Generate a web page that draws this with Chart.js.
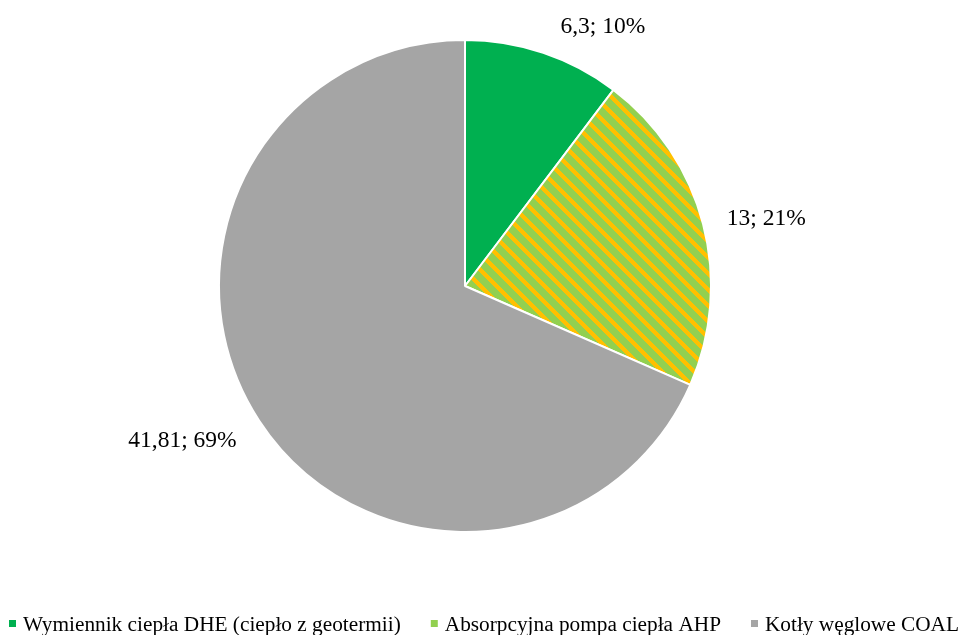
<!DOCTYPE html>
<html>
<head>
<meta charset="utf-8">
<script src="https://cdn.jsdelivr.net/npm/chart.js@4.4.1/dist/chart.umd.min.js"></script>
<style>
  html, body { margin: 0; padding: 0; background: #fff; }
</style>
</head>
<body>
<canvas id="chart" width="960" height="635"></canvas>
<script>
// Heat sources and their share
const categories = [
  'Wymiennik ciepła DHE (ciepło z geotermii)',
  'Absorpcyjna pompa ciepła AHP',
  'Kotły węglowe COAL'
];
const values = [6.3, 13, 41.81];
const percentLabels = ['10%', '21%', '69%'];

const COLORS = {
  dhe: '#00B050',
  ahp: '#92D050',
  ahpStripe: '#FFC000',
  coal: '#A5A5A5'
};
const FONT = '"Liberation Serif", "Times New Roman", serif';

/**
 * Wide downward diagonal stripes (green / orange) for the AHP slice
 */
function makeStripePattern(ctx) {
  const size = 16;
  const tile = document.createElement('canvas');
  tile.width = size;
  tile.height = size;
  const t = tile.getContext('2d');
  t.fillStyle = COLORS.ahp;
  t.fillRect(0, 0, size, size);
  t.fillStyle = COLORS.ahpStripe;
  for (let y = 0; y < size; y++) {
    for (let x = 0; x < size; x++) {
      if ((((x - y) % size) + size) % size < 6) t.fillRect(x, y, 1, 1);
    }
  }
  return ctx.createPattern(tile, 'repeat');
}

/**
 * "value; percent" labels outside each slice (Excel-like outside end placement)
 */
const sliceLabels = {
  id: 'sliceLabels',
  afterDatasetsDraw(chart) {
    const ctx = chart.ctx;
    const meta = chart.getDatasetMeta(0);
    ctx.save();
    ctx.font = '23.5px ' + FONT;
    ctx.fillStyle = '#000';
    ctx.textAlign = 'center';
    ctx.textBaseline = 'middle';
    meta.data.forEach((arc, i) => {
      const text = String(values[i]).replace('.', ',') + '; ' + percentLabels[i];
      const mid = (arc.startAngle + arc.endAngle) / 2;
      const w = ctx.measureText(text).width;
      const cos = Math.cos(mid);
      const sin = Math.sin(mid);
      const ax = arc.x + cos * (arc.outerRadius + 10);
      const ay = arc.y + sin * (arc.outerRadius + 10);
      const x = ax + Math.sign(cos) * (w / 2 + 14);
      const y = ay + sin * 21 + 3;
      ctx.fillText(text, x, y);
    });
    ctx.restore();
  }
};

/**
 * Single-row legend under the pie (solid swatches)
 */
const bottomLegend = {
  id: 'bottomLegend',
  afterDraw(chart) {
    const ctx = chart.ctx;
    const colors = [COLORS.dhe, COLORS.ahp, COLORS.coal];
    const box = 7;
    const textGap = 7;
    const itemGap = 30;
    const base = 631;
    ctx.save();
    ctx.font = '21.3px ' + FONT;
    const widths = categories.map(c => ctx.measureText(c).width);
    const total = widths.reduce((s, w) => s + box + textGap + w, 0) + itemGap * (categories.length - 1);
    let x = (chart.width - total) / 2 + 4;
    categories.forEach((c, i) => {
      ctx.fillStyle = colors[i];
      ctx.fillRect(x, base - 11, box, box);
      ctx.fillStyle = '#000';
      ctx.textBaseline = 'alphabetic';
      ctx.textAlign = 'left';
      ctx.fillText(c, x + box + textGap, base);
      x += box + textGap + widths[i] + itemGap;
    });
    ctx.restore();
  }
};

const canvas = document.getElementById('chart');
const ctx = canvas.getContext('2d');

new Chart(ctx, {
  type: 'pie',
  data: {
    labels: categories,
    datasets: [{
      data: values,
      backgroundColor: [COLORS.dhe, makeStripePattern(ctx), COLORS.coal],
      borderColor: '#ffffff',
      borderWidth: 2
    }]
  },
  options: {
    responsive: false,
    devicePixelRatio: 1,
    animation: false,
    layout: {
      padding: { top: 39, bottom: 102, left: 0, right: 30 }
    },
    plugins: {
      legend: { display: false },
      tooltip: { enabled: false }
    }
  },
  plugins: [sliceLabels, bottomLegend]
});
</script>
</body>
</html>
